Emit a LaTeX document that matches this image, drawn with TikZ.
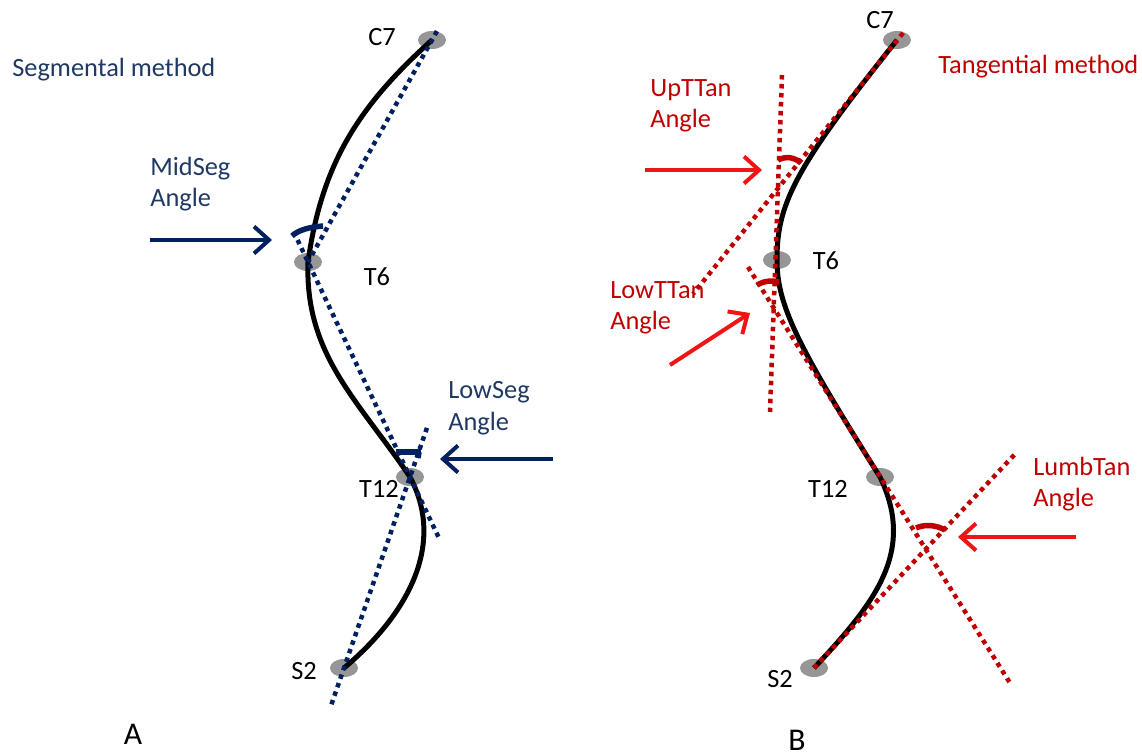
\documentclass[tikz,border=0pt]{standalone}
\usepackage{fontspec}
\setmainfont{Carlito}
\usetikzlibrary{shapes.geometric,arrows.meta,calc}
\definecolor{navy}{RGB}{31,56,100}
\definecolor{navyl}{RGB}{0,32,96}
\definecolor{dred}{RGB}{192,0,0}
\definecolor{bred}{RGB}{240,20,20}
\definecolor{dotgray}{RGB}{150,150,150}
\tikzset{
  vdot/.style={ellipse,fill=dotgray,draw=none,minimum width=5.6mm,minimum height=3.6mm,inner sep=0pt},
  lbl/.style={font=\fontsize{15}{18}\selectfont,inner sep=0pt,align=left},
  spine/.style={line width=1mm,black},
  bdots/.style={navyl,line width=0.9mm,dash pattern=on 0.9mm off 0.9mm},
  rdots/.style={dred,line width=0.9mm,dash pattern=on 0.9mm off 0.9mm},
  navyarrow/.style={navyl,line width=0.8mm,-{Straight Barb[length=3mm,width=5.4mm,line width=0.8mm]}},
  redarrow/.style={bred,line width=0.8mm,-{Straight Barb[length=3mm,width=5.4mm,line width=0.8mm]}},
  bmark/.style={navyl,line width=1.1mm},
  rmark/.style={dred,line width=1.1mm},
}
\begin{document}
\begin{tikzpicture}[x=0.02cm,y=-0.02cm]
\useasboundingbox (0,0) rectangle (1142,756);
% ---------- Panel A ----------
\node[vdot] (a7) at (432,40) {};
\node[vdot] (a6) at (308,262) {};
\node[vdot] (a12) at (410,477) {};
\node[vdot] (a2) at (344,668) {};
\draw[spine] (a7.center) to[out=222,in=82] (a6.center) to[out=-92,in=124] (a12.center) to[out=-62,in=40] (a2.center);
\draw[bdots] ($(a7)!-0.04!(a6)$) -- (a6.center);
\draw[bdots] ($(a6)!-0.14!(a12)$) -- ($(a12)!-0.28!(a6)$);
\draw[bdots] ($(a2)!-0.19!(a12)$) -- ($(a12)!-0.27!(a2)$);
\draw[bmark] (292,236) .. controls (298,230) and (310,227) .. (323,226);
\draw[bmark] (396,452) -- (421,452);
\draw[bmark] (419,452) -- (418,458);
\node[lbl,text=navy,anchor=west] (segm) at (12,70) {Segmental method};
\node[lbl,text=navy,anchor=west] (midseg) at (150,184) {MidSeg\\Angle};
\node[lbl,text=navy,anchor=west] (lowseg) at (448,408) {LowSeg\\Angle};
\node[lbl] (la7) at (382,37) {C7};
\node[lbl] (la6) at (377,277) {T6};
\node[lbl] (la12) at (379,489) {T12};
\node[lbl] (la2) at (304,671) {S2};
\node[lbl,font=\fontsize{18}{20}\selectfont,anchor=base] (labA) at (133,744) {A};
\coordinate (am1) at (150,240);
\coordinate (am2) at (272,240);
\coordinate (al1) at (553,459);
\coordinate (al2) at (440,459);
\draw[navyarrow] (am1) -- (am2);
\draw[navyarrow] (al1) -- (al2);
% ---------- Panel B ----------
\node[vdot] (b7) at (897,40) {};
\node[vdot] (b6) at (777,260) {};
\node[vdot] (b12) at (880,477) {};
\node[vdot] (b2) at (814,668) {};
\draw[spine] (b7.center) .. controls (793,170) and (777,205) .. (b6.center)
  .. controls (777,305) and (797,345) .. (b12.center)
  .. controls (915,550) and (878,600) .. (b2.center);
\coordinate (tc1) at (903,33);
\coordinate (tc2) at (693,294);
\coordinate (tv1) at (782,75);
\coordinate (tv2) at (770,412);
\coordinate (tt1) at (748,267);
\coordinate (tt2) at (1010,683);
\coordinate (ts2) at (1017,452);
\draw[rdots] (tc1) -- (tc2);
\draw[rdots] (tv1) -- (tv2);
\draw[rdots] (tt1) -- (tt2);
\draw[rdots] (b2.center) -- (ts2);
\draw[rmark] (778,160) .. controls (786,156) and (794,157) .. (801,163);
\draw[rmark] (757,285) .. controls (764,281) and (772,280) .. (779,282);
\draw[rmark] (916,528) .. controls (925,524) and (936,525) .. (945,530);
\node[lbl,text=dred,anchor=west] (tang) at (938,67) {Tangential method};
\node[lbl,text=dred,anchor=west] (uptt) at (650,106) {UpTTan\\Angle};
\node[lbl,text=dred,anchor=west] (lowtt) at (610,308) {LowTTan\\Angle};
\node[lbl,text=dred,anchor=west] (lumb) at (1033,484) {LumbTan\\Angle};
\node[lbl] (lb7) at (880,20) {C7};
\node[lbl] (lb6) at (826,261) {T6};
\node[lbl] (lb12) at (828,489) {T12};
\node[lbl] (lb2) at (780,679) {S2};
\node[lbl,font=\fontsize{18}{20}\selectfont,anchor=base] (labB) at (797,750) {B};
\coordinate (ru1) at (645,170);
\coordinate (ru2) at (762,170);
\coordinate (rl1) at (670,365);
\coordinate (rl2) at (750,313);
\coordinate (rb1) at (1076,537);
\coordinate (rb2) at (958,537);
\draw[redarrow] (ru1) -- (ru2);
\draw[redarrow] (rl1) -- (rl2);
\draw[redarrow] (rb1) -- (rb2);
\end{tikzpicture}
\end{document}
